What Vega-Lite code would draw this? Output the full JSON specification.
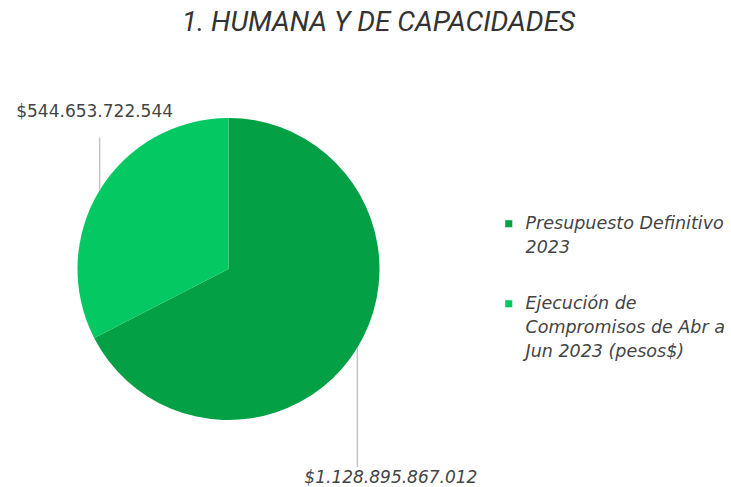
{
  "$schema": "https://vega.github.io/schema/vega-lite/v6.json",
  "width": 731,
  "height": 440,
  "padding": {"top": 9, "left": 0, "right": 0, "bottom": 0},
  "background": "white",
  "title": {
    "text": "1. HUMANA Y DE CAPACIDADES",
    "font": "Roboto",
    "fontSize": 28,
    "fontStyle": "italic",
    "fontWeight": "normal",
    "color": "#333333",
    "anchor": "middle",
    "dx": 13,
    "offset": 6
  },
  "config": {
    "view": {"stroke": null},
    "locale": {"number": {"decimal": ",", "thousands": ".", "grouping": [3], "currency": ["$", ""]}}
  },
  "data": {
    "values": [
      {"categoria": "Presupuesto Definitivo 2023", "valor": 1128895867012},
      {"categoria": "Ejecución de Compromisos de Abr a Jun 2023 (pesos$)", "valor": 544653722544}
    ]
  },
  "transform": [
    {"joinaggregate": [{"op": "sum", "field": "valor", "as": "total"}]},
    {"window": [{"op": "sum", "field": "valor", "as": "acum"}], "sort": [{"field": "valor", "order": "descending"}], "frame": [null, 0]},
    {"calculate": "(datum.acum - datum.valor / 2) / datum.total * 2 * PI", "as": "medio"},
    {"calculate": "sin(datum.medio)", "as": "px"},
    {"calculate": "cos(datum.medio)", "as": "py"},
    {"calculate": "datum.py > 0 ? datum.py + 0.35 : datum.py - 0.79", "as": "ly"}
  ],
  "layer": [
    {
      "mark": {"type": "arc", "radius": 151},
      "encoding": {
        "x": {"datum": 0, "type": "quantitative", "scale": {"domain": [-1.5132, 3.3278], "nice": false, "zero": false}, "axis": null},
        "y": {"datum": 0, "type": "quantitative", "scale": {"domain": [-1.4172, 1.4967], "nice": false, "zero": false}, "axis": null},
        "theta": {"field": "valor", "type": "quantitative", "stack": true},
        "order": {"field": "valor", "sort": "descending"},
        "color": {
          "field": "categoria",
          "type": "nominal",
          "scale": {
            "domain": ["Presupuesto Definitivo 2023", "Ejecución de Compromisos de Abr a Jun 2023 (pesos$)"],
            "range": ["#03a046", "#04c862"]
          },
          "legend": {
            "title": null,
            "orient": "none",
            "legendX": 500,
            "legendY": 172,
            "symbolType": "square",
            "symbolSize": 50,
            "symbolStrokeWidth": 0,
            "labelFont": "DejaVu Sans",
            "labelFontSize": 17.5,
            "labelFontStyle": "italic",
            "labelColor": "#444444",
            "labelLimit": 300,
            "labelOffset": 8,
            "rowPadding": 37,
            "labelExpr": "datum.label == 'Presupuesto Definitivo 2023' ? ['Presupuesto Definitivo', '2023'] : ['Ejecución de', 'Compromisos de Abr a', 'Jun 2023 (pesos$)']",
            "encode": {"labels": {"update": {"lineHeight": {"value": 24}}}}
          }
        }
      }
    },
    {
      "mark": {"type": "rule", "color": "#c4c4c4", "strokeWidth": 1.5},
      "encoding": {
        "x": {"field": "px", "type": "quantitative"},
        "y": {"field": "py", "type": "quantitative"},
        "y2": {"field": "ly"}
      }
    },
    {
      "transform": [{"filter": "datum.py > 0"}],
      "mark": {"type": "text", "font": "DejaVu Sans", "fontSize": 17, "color": "#444444", "align": "center", "baseline": "alphabetic", "dx": -5, "dy": -20},
      "encoding": {
        "x": {"field": "px", "type": "quantitative"},
        "y": {"field": "ly", "type": "quantitative"},
        "text": {"field": "valor", "type": "quantitative", "format": "$,.0f"}
      }
    },
    {
      "transform": [{"filter": "datum.py < 0"}],
      "mark": {"type": "text", "font": "DejaVu Sans", "fontSize": 17, "fontStyle": "italic", "color": "#444444", "align": "left", "baseline": "top", "dx": -53, "dy": 3},
      "encoding": {
        "x": {"field": "px", "type": "quantitative"},
        "y": {"field": "ly", "type": "quantitative"},
        "text": {"field": "valor", "type": "quantitative", "format": "$,.0f"}
      }
    }
  ]
}
